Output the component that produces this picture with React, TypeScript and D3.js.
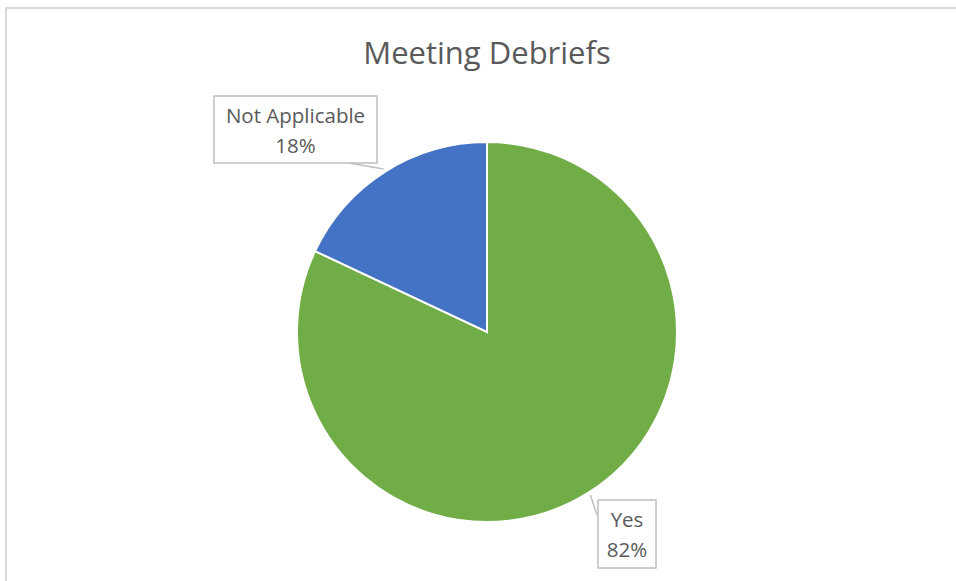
import React from 'react';
import * as d3 from 'd3';

const categories = ['Yes', 'Not Applicable'];
const values = [82, 18];
const colors = ['#70AD47', '#4472C4'];
const title = 'Meeting Debriefs';

const W = 956;
const H = 581;

const App: React.FC = () => {
  const cx = 487;
  const cy = 332;
  const r = 190;
  const pie = d3.pie<number>().sort(null).value((d) => d);
  const arcs = pie(values);
  const arc = d3.arc<d3.PieArcDatum<number>>().innerRadius(0).outerRadius(r);
  const fmt = d3.format('.0%');
  const total = d3.sum(values);

  // label boxes (page coords) and the point where the leader meets each box
  const boxes = [
    { x: 598, y: 500, w: 58, h: 68, lead: [597, 515] as [number, number] },
    { x: 214, y: 96, w: 163, h: 67, lead: [349, 163] as [number, number] },
  ];

  return (
    <svg
      width={W}
      height={H}
      style={{ position: 'absolute', left: 0, top: 0, background: '#fff' }}
      fontFamily="'Open Sans', sans-serif"
    >
      <rect x={6} y={8} width={W + 10} height={H + 10} fill="#fff" stroke="#d9d9d9" strokeWidth={2} />
      <text x={cx} y={64} textAnchor="middle" fontSize={31} fill="#595959">
        {title}
      </text>
      <g transform={`translate(${cx},${cy})`}>
        {arcs.map((a, i) => (
          <path key={i} d={arc(a) || ''} fill={colors[i]} stroke="#fff" strokeWidth={2} />
        ))}
      </g>
      {arcs.map((a, i) => {
        const b = boxes[i];
        const mid = (a.startAngle + a.endAngle) / 2;
        const ex = cx + Math.sin(mid) * (r + 3);
        const ey = cy - Math.cos(mid) * (r + 3);
        return (
          <g key={i}>
            <line x1={ex} y1={ey} x2={b.lead[0]} y2={b.lead[1]} stroke="#bfbfbf" strokeWidth={1.5} />
            <rect x={b.x} y={b.y} width={b.w} height={b.h} fill="#fff" stroke="#bfbfbf" strokeWidth={1.5} />
            <text x={b.x + b.w / 2} y={b.y + 27} textAnchor="middle" fontSize={20.5} fill="#595959">
              {categories[i]}
            </text>
            <text x={b.x + b.w / 2} y={b.y + 57} textAnchor="middle" fontSize={20.5} fill="#595959">
              {fmt(values[i] / total)}
            </text>
          </g>
        );
      })}
    </svg>
  );
};

export default App;
